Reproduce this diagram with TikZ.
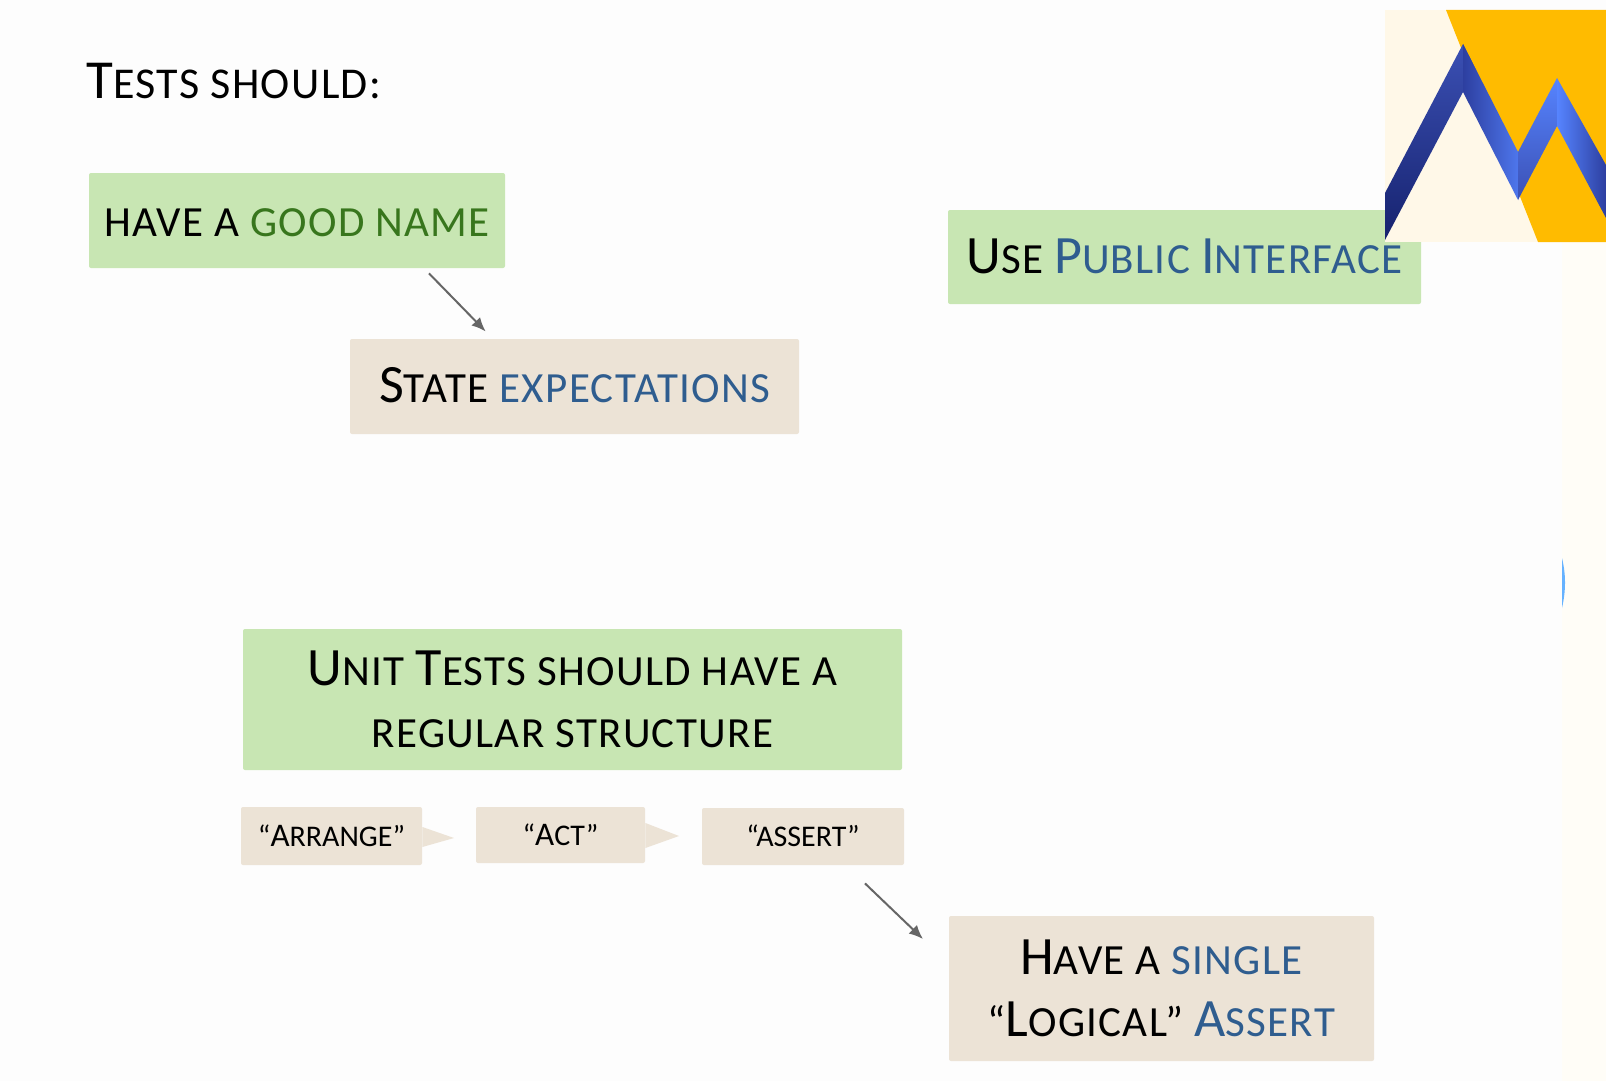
\documentclass[tikz,border=0pt]{standalone}
\usepackage{fontspec}
\setmainfont[LetterSpace=3]{Carlito}
\newfontfamily\plainfont{Carlito}
\usetikzlibrary{positioning,calc,arrows.meta}
\definecolor{pagebg}{HTML}{FDFDFD}
\definecolor{stripbg}{HTML}{FFFDF7}
\definecolor{boxgreen}{HTML}{C8E6B3}
\definecolor{boxtan}{HTML}{ECE3D6}
\definecolor{txtblue}{HTML}{2F5D8F}
\definecolor{txtgreen}{HTML}{38761D}
\definecolor{logocream}{HTML}{FFF8E8}
\definecolor{logoyellow}{HTML}{FFBB00}
\definecolor{logonavy}{HTML}{16226E}
\definecolor{logoblue}{HTML}{3B50B4}
\definecolor{logodeep}{HTML}{2D3FA0}
\definecolor{logolight}{HTML}{5684FF}
\definecolor{arrowgray}{HTML}{666666}
\newcommand{\capsz}{27}
\newcommand{\capl}[1]{{\fontsize{\capsz}{0}\selectfont #1}}
\tikzset{
  greenbox/.style={fill=boxgreen,rounded corners=1pt,align=center,font=\renewcommand{\capsz}{27}\fontsize{21.5}{31}\selectfont,text=black},
  tanbox/.style={fill=boxtan,rounded corners=1pt,align=center,font=\renewcommand{\capsz}{27}\fontsize{21.5}{31}\selectfont,text=black},
  oneline/.style={text height=17pt,text depth=1pt},
  smallbox/.style={fill=boxtan,rounded corners=1pt,font=\plainfont\renewcommand{\capsz}{16.5}\fontsize{15}{17}\selectfont,text=black,text height=11pt,text depth=1pt},
  arr/.style={draw=arrowgray,line width=1pt,-{Latex[length=7pt,width=6pt]}},
}
\begin{document}
\begin{tikzpicture}[x=.5pt,y=-.5pt,every node/.style={inner sep=0pt}]
  \useasboundingbox (0,0) rectangle (1606,1081);
  \fill[pagebg] (0,0) rectangle (1606,1081);
  \fill[stripbg] (1562,242) rectangle (1606,1081);

  \node[greenbox,oneline,minimum width=208pt,minimum height=47.5pt] (good) at (297,220.5) {HAVE A \textcolor{txtgreen}{GOOD NAME}};
  \node[tanbox,oneline,minimum width=224.5pt,minimum height=47.5pt] (state) at (574.5,386.5) {\capl{S}TATE \textcolor{txtblue}{EXPECTATIONS}};
  \node[greenbox,oneline,minimum width=236.5pt,minimum height=47pt] (public) at (1184.5,257) {\capl{U}SE \textcolor{txtblue}{\capl{P}UBLIC \capl{I}NTERFACE}};
  \node[greenbox,minimum width=329.5pt,minimum height=70.5pt] (unit) at (572.5,699.5) {\capl{U}NIT \capl{T}ESTS SHOULD HAVE A\\REGULAR STRUCTURE};
  \node[smallbox,minimum width=90.5pt,minimum height=29pt] (arrange) at (331.5,836) {“\capl{A}RRANGE”};
  \node[smallbox,minimum width=84.5pt,minimum height=28pt] (act) at (560.5,835) {“\capl{A}CT”};
  \node[smallbox,minimum width=101pt,minimum height=28.5pt] (assert) at (803,836.5) {“ASSERT”};
  \node[tanbox,minimum width=212.5pt,minimum height=72.5pt] (have) at (1161.5,988.5) {\capl{H}AVE A \textcolor{txtblue}{SINGLE}\\“\capl{L}OGICAL” \textcolor{txtblue}{\capl{A}SSERT}};
  \node[anchor=west,font=\renewcommand{\capsz}{27.5}\fontsize{22}{28}\selectfont] (title) at (86,81) {\capl{T}ESTS SHOULD:};

  % speech tails
  \fill[boxtan] ($(arrange.east)+(0,-9)$) -- (454,838) -- ($(arrange.east)+(0,11)$) -- cycle;
  \fill[boxtan] ($(act.east)+(0,-12)$) -- (679,836) -- ($(act.east)+(0,13)$) -- cycle;

  \coordinate (arrowend) at (923,939);
  \draw[arr,shorten <=3.5pt,shorten >=5pt] ($(good.south west)!.805!(good.south east)$) -- ($(state.north west)!.318!(state.north east)$);
  \draw[arr,shorten <=13pt] ($(assert.south west)!.713!(assert.south east)$) -- (arrowend);

  % logo
  \fill[logocream] (1385,10) rectangle (1606,242);
  \fill[logoyellow] (1446,10) -- (1606,10) -- (1606,242) -- (1538,242) -- cycle;
  \shade[bottom color=logonavy,top color=logoblue] (1385,193) -- (1463,44) -- (1476,70) -- (1463,92) -- (1385,240) -- cycle;
  \shade[shading angle=120,left color=logodeep,right color=logolight!80!logodeep] (1463,44) -- (1518,152) -- (1518,200) -- (1463,92) -- cycle;
  \shade[bottom color=logoblue,top color=logolight] (1518,152) -- (1557,78) -- (1557,126) -- (1518,200) -- cycle;
  \shade[left color=logolight,right color=logodeep] (1557,78) -- (1606,165) -- (1606,218) -- (1557,126) -- cycle;

  \fill[blue!50!cyan!60!white] (1562,558) .. controls (1566,575) and (1566,590) .. (1562,608) -- cycle;
\end{tikzpicture}
\end{document}
